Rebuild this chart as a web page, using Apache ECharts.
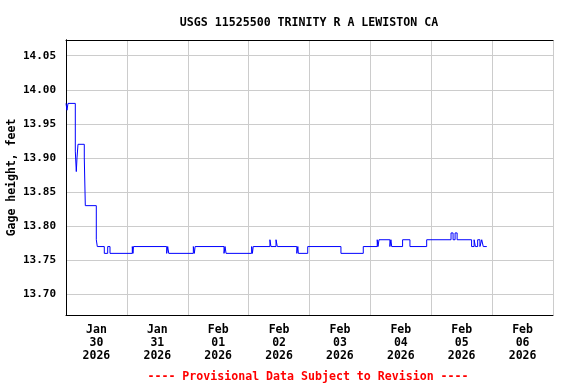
<!DOCTYPE html>
<html>
<head>
<meta charset="utf-8">
<script src="https://cdn.jsdelivr.net/npm/echarts@6/dist/echarts.min.js"></script>
<style>html,body{margin:0;padding:0;background:#fff;}#chart{width:576px;height:384px;}</style>
</head>
<body>
<div id="chart"></div>
<script>
// Hours since 2026-01-30 00:00 (local)
const timeHours = [0, 0.39, 0.79, 3.67, 4.06, 4.34, 4.73, 7.21, 7.61, 11.95, 12.34, 15.10, 16.44, 17.35,
  26.14, 26.4, 26.6, 39.7, 40.1, 40.5, 50.2, 50.6, 50.9, 62.3, 62.7, 63.1, 73.2, 73.5, 73.8,
  80.4, 80.8, 82.8, 83.3, 91.0, 91.4, 91.6, 95.3, 108.4, 117.2, 122.7, 123.0, 123.4,
  127.7, 128.1, 128.4, 132.7, 135.6, 142.2, 151.8, 152.6, 153.4, 154.2,
  159.9, 160.9, 161.4, 162.3, 163.2, 163.9, 164.5, 165.9];
const gageHeight = [13.98, 13.97, 13.98, 13.91, 13.88, 13.90, 13.92, 13.90, 13.83, 13.78, 13.77, 13.76, 13.77, 13.76,
  13.77, 13.76, 13.77, 13.76, 13.77, 13.76, 13.77, 13.76, 13.77, 13.76, 13.77, 13.76, 13.77, 13.76, 13.77,
  13.78, 13.77, 13.78, 13.77, 13.76, 13.77, 13.76, 13.77, 13.76, 13.77, 13.78, 13.77, 13.78,
  13.77, 13.78, 13.77, 13.78, 13.77, 13.78, 13.79, 13.78, 13.79, 13.78,
  13.77, 13.78, 13.77, 13.78, 13.77, 13.78, 13.77, 13.77];
const dayLabels = ['Jan\n30\n2026', 'Jan\n31\n2026', 'Feb\n01\n2026', 'Feb\n02\n2026',
  'Feb\n03\n2026', 'Feb\n04\n2026', 'Feb\n05\n2026', 'Feb\n06\n2026'];
const labelHours = [12, 36, 60, 84, 108, 132, 156, 180];
const titleText = 'USGS 11525500 TRINITY R A LEWISTON CA';
const footerText = '---- Provisional Data Subject to Revision ----';
const yName = 'Gage height, feet';

const FONT = 'DejaVu Sans Mono';
const frameAxisLine = {show: true, lineStyle: {color: '#000', width: 1}};
const chart = echarts.init(document.getElementById('chart'), null, {renderer: 'canvas'});
chart.setOption({
  animation: false,
  backgroundColor: '#fff',
  title: [
    {text: titleText, left: 304, textAlign: 'center', top: 12,
     textStyle: {fontFamily: FONT, fontWeight: 'bold', fontSize: 11.6, color: '#000'}},
    {text: footerText, left: 303, textAlign: 'center', top: 366,
     textStyle: {fontFamily: FONT, fontWeight: 'bold', fontSize: 11.6, color: '#ff0000'}}
  ],
  grid: {left: 66, right: 23, top: 40, bottom: 69, containLabel: false, outerBoundsMode: 'none',
    show: false},
  xAxis: [{
    type: 'value', min: 0, max: 192, interval: 24,
    axisLine: frameAxisLine, axisTick: {show: false},
    splitLine: {show: true, lineStyle: {color: '#cccccc', width: 1}},
    axisLabel: {
      customValues: labelHours,
      margin: 9,
      fontFamily: FONT, fontWeight: 'bold', fontSize: 11.5, color: '#000', lineHeight: 13,
      formatter: function (v) { const i = labelHours.indexOf(Math.round(v)); return i >= 0 ? dayLabels[i] : ''; }
    }
  }, {
    type: 'value', position: 'top', min: 0, max: 192, interval: 24,
    axisLine: frameAxisLine, axisTick: {show: false}, axisLabel: {show: false}, splitLine: {show: false}
  }],
  yAxis: [{
    type: 'value', min: 13.6696, max: 14.073, splitNumber: 8, minInterval: 0.05, maxInterval: 0.05,
    name: yName, nameLocation: 'middle', nameGap: 48, nameRotate: 90, nameMoveOverlap: false,
    nameTextStyle: {fontFamily: FONT, fontWeight: 'bold', fontSize: 11.5, color: '#000'},
    axisLine: frameAxisLine, axisTick: {show: false},
    splitLine: {show: true, lineStyle: {color: '#cccccc', width: 1}},
    axisLabel: {
      margin: 10, fontFamily: FONT, fontWeight: 'bold', fontSize: 11, color: '#000',
      formatter: function (v) {
        const r = Math.round(v * 100) / 100;
        if (Math.abs(v - Math.round(v * 20) / 20) > 1e-6) return '';
        return r.toFixed(2);
      }
    }
  }, {
    type: 'value', position: 'right', min: 13.6696, max: 14.073,
    axisLine: frameAxisLine, axisTick: {show: false}, axisLabel: {show: false}, splitLine: {show: false}
  }],
  series: [{
    type: 'line', step: 'end', showSymbol: false, symbol: 'none',
    lineStyle: {color: '#0000ff', width: 1},
    data: timeHours.map((t, i) => [t, gageHeight[i]])
  }]
});
</script>
</body>
</html>
